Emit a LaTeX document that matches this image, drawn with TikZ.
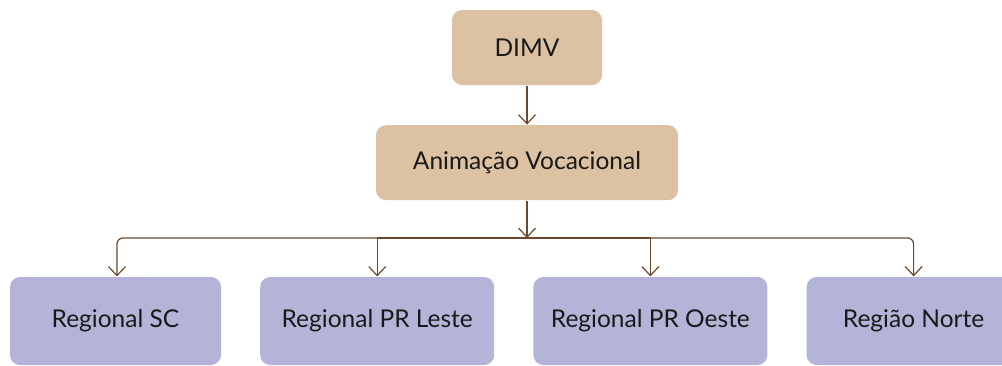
\documentclass[tikz,border=0pt]{standalone}
\usepackage{fontspec}
\setmainfont{Lato}
\usetikzlibrary{arrows.meta,positioning}
\definecolor{tan}{RGB}{220,194,163}
\definecolor{lavanda}{RGB}{180,180,216}
\definecolor{marrom}{RGB}{108,72,44}

\begin{document}
\begin{tikzpicture}[x=1pt,y=-1pt,->,>={Straight Barb[length=9pt,width=17pt]},
                    line width=1.2pt,draw=marrom]
  \tikzstyle{every node}=[font=\fontsize{24.5}{28}\selectfont,text=black!90]
  \tikzstyle{boss}=[draw=none,fill=tan,rounded corners=10pt,minimum height=75pt]
  \tikzstyle{regional}=[draw=none,fill=lavanda,rounded corners=10pt,minimum height=88pt,minimum width=234pt]
  \useasboundingbox (0,0) rectangle (1002,365);

  \node[boss,minimum width=150pt] (dimv) at (527,47.5) {DIMV};
  \node[boss,minimum width=302pt] (anim) [below=39pt of dimv] {Animação Vocacional};
  \node[regional,minimum width=211pt] (sc) at (115.5,321) {Regional SC};
  \node[regional] (leste) [right=38pt of sc] {Regional PR Leste};
  \node[regional] (oeste) [right=38pt of leste] {Regional PR Oeste};
  \node[regional,minimum width=214pt] (norte) [right=38pt of oeste] {Região Norte};
  \coordinate (bus) at (527,238);

  \draw[marrom] (dimv)--(anim);
  \draw[marrom] (anim)--(bus);
  \draw[marrom,rounded corners=6pt] (bus) -| ([xshift=1.5pt]sc.north);
  \draw[marrom] (bus) -| (leste.north);
  \draw[marrom] (bus) -| (oeste.north);
  \draw[marrom,rounded corners=6pt] (bus) -| (norte.north);
\end{tikzpicture}
\end{document}
